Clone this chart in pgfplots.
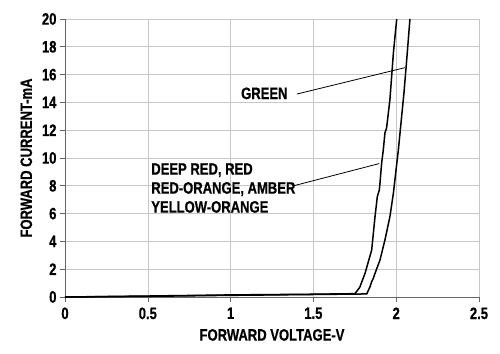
\documentclass[border=0pt]{standalone}
\usepackage{fontspec}
\setmainfont{Liberation Sans}[FakeStretch=0.79, FakeBold=0.6]
\usepackage{pgfplots}
\pgfplotsset{compat=1.18}
\begin{document}
\begin{tikzpicture}[x=1pt,y=1pt]
\useasboundingbox (-65,-56) rectangle (435,297);
\begin{axis}[
  scale only axis, width=414pt, height=278pt,
  xmin=0, xmax=2.5, ymin=0, ymax=20,
  xtick={0,0.5,1,1.5,2,2.5}, ytick={0,2,...,20},
  axis lines=left, axis line style={-, draw=black!60, line width=0.8pt},
  grid=major, grid style={draw=black!22, line width=0.6pt},
  tick align=outside, major tick length=5pt,
  tick style={draw=black!60, line width=0.6pt},
  /pgf/number format/assume math mode=true,
  ticklabel style={font=\fontsize{16.5}{16.5}\selectfont\bfseries},
  xticklabel style={yshift=-2pt},
  label style={font=\fontsize{16.5}{17}\selectfont\bfseries},
  xlabel={FORWARD VOLTAGE-V}, ylabel={FORWARD CURRENT-mA},
  xlabel style={yshift=-3pt}, ylabel style={yshift=3pt},
  clip=false,
]
\addplot[black, line width=1.5pt] coordinates {
(0,0) (0.5,0.07) (1.0,0.15) (1.5,0.2) (1.751,0.24) (1.78,0.7) (1.812,1.71) (1.852,3.38) (1.872,5.78) (1.886,7.22) (1.898,7.70) (1.902,8.18) (1.912,9.62) (1.922,10.58) (1.932,11.8) (1.942,12.16) (1.962,14.2) (1.983,17.55) (2.003,20)
};
\addplot[black, line width=1.5pt] coordinates {
(0,0) (0.5,0.05) (1.0,0.12) (1.5,0.18) (1.822,0.22) (1.842,0.74) (1.852,1.1) (1.862,1.35) (1.872,1.7) (1.902,2.66) (1.932,4.1) (1.962,5.78) (1.983,7.46) (1.999,9.14) (2.013,10.58) (2.047,14.7) (2.063,17.0) (2.083,20)
};
\draw[black, line width=0.8pt] (axis cs:1.40,14.6) -- (axis cs:2.053,16.5);
\node[anchor=east, font=\fontsize{16.5}{17}\selectfont\bfseries, inner sep=0pt] at (axis cs:1.345,14.65) {GREEN};
\draw[black, line width=0.8pt] (axis cs:1.38,8.0) -- (axis cs:1.898,9.6);
\node[anchor=west, align=left, font=\fontsize{16.5}{19}\selectfont\bfseries, inner sep=0pt] at (axis cs:0.52,7.84) {DEEP RED, RED\\RED-ORANGE, AMBER\\YELLOW-ORANGE};
\end{axis}
\end{tikzpicture}
\end{document}
